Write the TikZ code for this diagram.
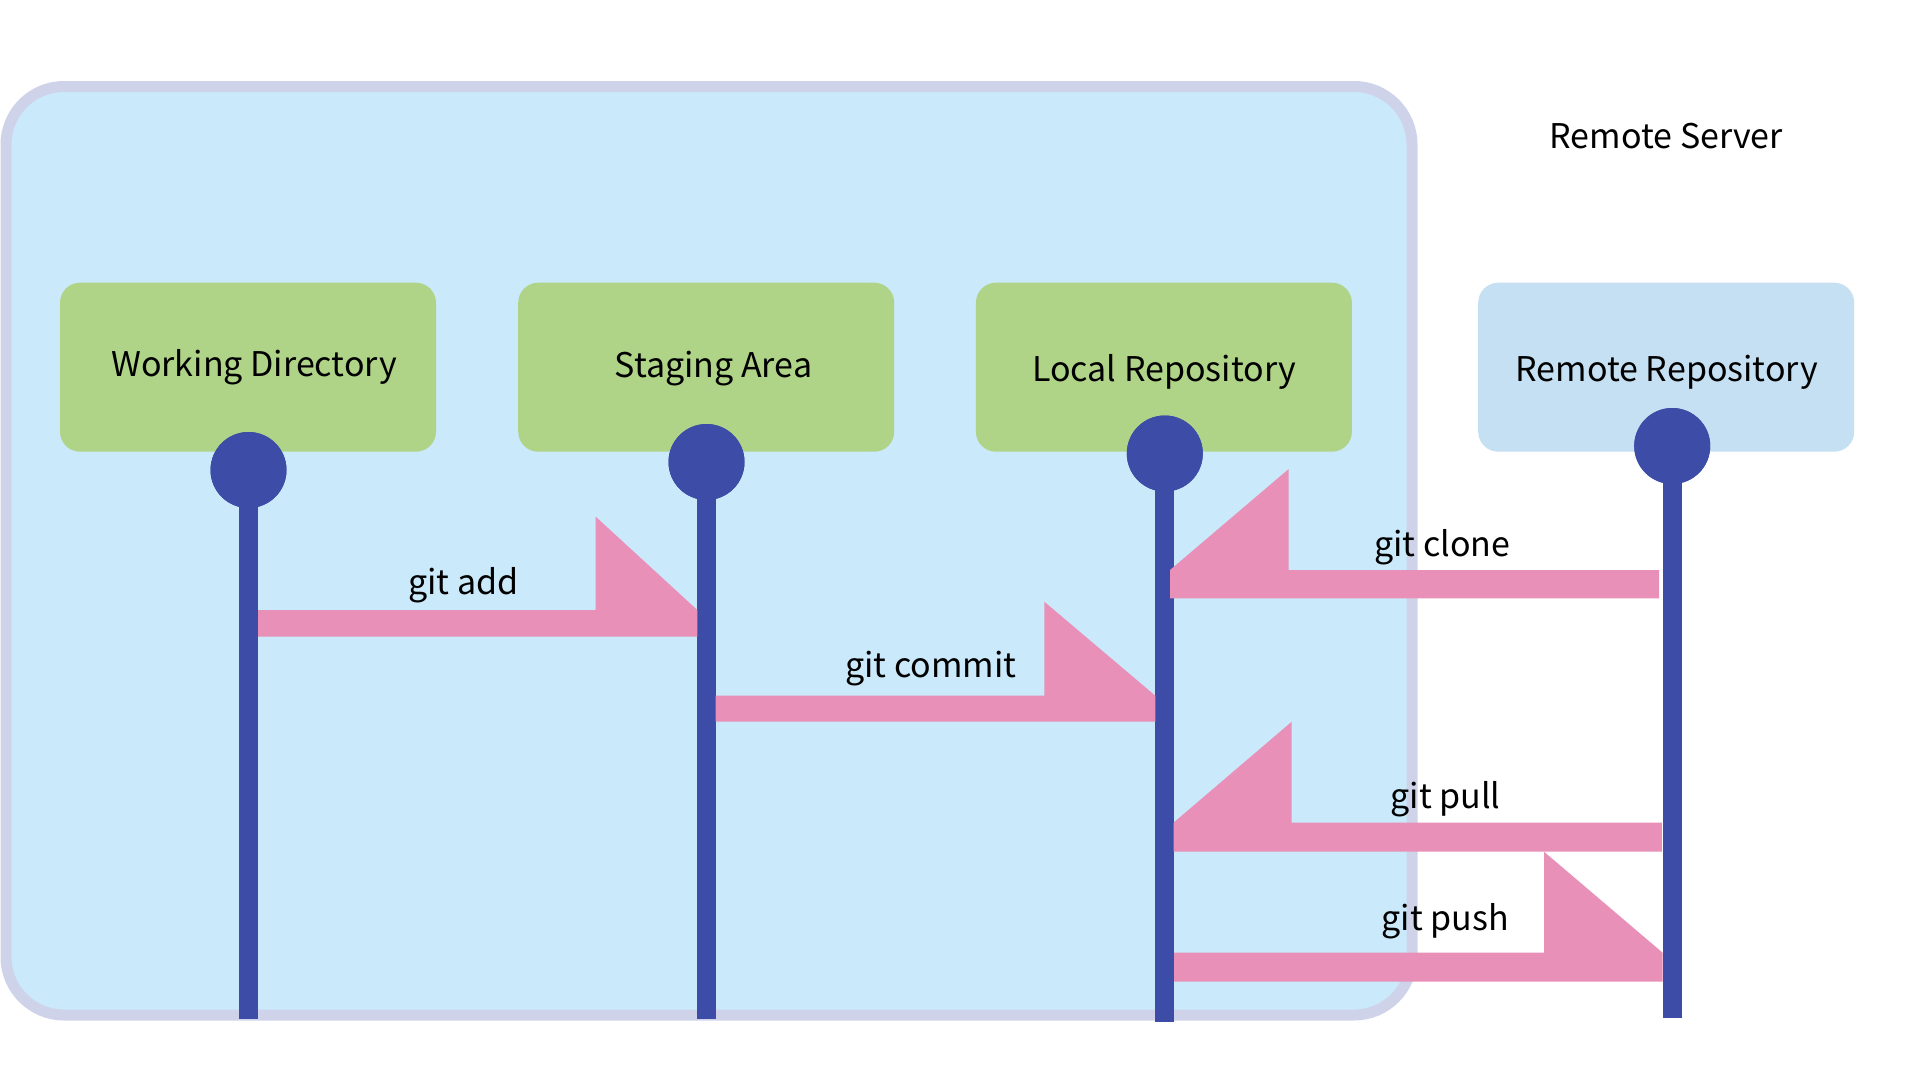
\documentclass[tikz,border=0pt]{standalone}
\usepackage{fontspec}
\setmainfont{Noto Sans CJK SC}
\usetikzlibrary{calc}
\definecolor{outerfill}{HTML}{CAE9FB}
\definecolor{outerdraw}{HTML}{CFD3EA}
\definecolor{greenbox}{HTML}{B0D487}
\definecolor{remotebox}{HTML}{C5E0F2}
\definecolor{lifeblue}{HTML}{3C4CA7}
\definecolor{arrowpink}{HTML}{E890B7}
% #1 tail, #2 tip (both on the upper edge of the shaft), #3 shaft thickness, #4 head length, #5 head height
\newcommand{\ArrowRight}[5]{\fill[gitarrow] (#1) -- ($(#2)+(-#4,0)$) -- ($(#2)+(-#4,-#5)$) -- (#2) -- ($(#2)+(0,#3)$) -- ($(#1)+(0,#3)$) -- cycle;}
\newcommand{\ArrowLeft}[5]{\fill[gitarrow] (#1) -- ($(#2)+(#4,0)$) -- ($(#2)+(#4,-#5)$) -- (#2) -- ($(#2)+(0,#3)$) -- ($(#1)+(0,#3)$) -- cycle;}
\begin{document}
\begin{tikzpicture}[x=1pt,y=-1pt,
  containerbox/.style={rectangle, rounded corners=58pt, fill=outerfill, draw=outerdraw, line width=11pt, minimum width=1406pt, minimum height=928.5pt, inner sep=0pt, outer sep=0pt},
  stagebox/.style={rectangle, rounded corners=20pt, fill=greenbox, minimum width=376pt, minimum height=169pt, inner sep=0pt, outer sep=0pt},
  remotestage/.style={stagebox, fill=remotebox},
  dot/.style={circle, fill=lifeblue, minimum size=76pt, inner sep=0pt, outer sep=0pt},
  lifeline/.style={draw=lifeblue, line width=19pt},
  gitarrow/.style={fill=arrowpink},
  txt/.style={anchor=base, inner sep=0pt, outer sep=0pt, font=\fontsize{34}{41}\selectfont, text=black}
]
\useasboundingbox (0,0) rectangle (1920,1080);
\fill[white] (0,0) rectangle (1920,1080);

% container of the local side
\node[containerbox] (local) at (709,550.75) {};

% stage boxes
\node[stagebox] (wd) at (248,367.2) {};
\node[stagebox] (sa) at (706.2,367.2) {};
\node[stagebox] (lr) at (1163.9,367.2) {};
\node[remotestage] (rr) at (1666.2,367.2) {};

% lifeline ends
\coordinate (wdb) at (248.5,1018.7);
\coordinate (sab) at (706.5,1018.7);
\coordinate (lrb) at (1164.8,1021.7);
\coordinate (rrb) at (1672.2,1018.3);

% lifeline heads
\node[dot] (wdc) at (248.5,470) {};
\node[dot] (sac) at (706.5,462) {};
\node[dot] (lrc) at (1164.8,453.5) {};
\node[dot] (rrc) at (1672.2,446) {};

\draw[lifeline] (wdc.center) -- (wdb);
\draw[lifeline] (sac.center) -- (sab);
\draw[lifeline] (lrc.center) -- (lrb);
\draw[lifeline] (rrc.center) -- (rrb);
\node[dot] at (wdc.center) {};
\node[dot] at (sac.center) {};
\node[dot] at (lrc.center) {};
\node[dot] at (rrc.center) {};

% arrow end points
\coordinate (addS) at (258.2,610);
\coordinate (addT) at (697.3,610);
\coordinate (comS) at (715.5,695.7);
\coordinate (comT) at (1155.3,695.7);
\coordinate (cloS) at (1659,570);
\coordinate (cloT) at (1170,570);
\coordinate (pulS) at (1661.8,822.7);
\coordinate (pulT) at (1173.5,822.7);
\coordinate (pusS) at (1174,952.7);
\coordinate (pusT) at (1662.6,952.7);

\ArrowRight{addS}{addT}{26.7}{101.6}{93.3}
\ArrowRight{comS}{comT}{26}{111}{94}
\ArrowLeft{cloS}{cloT}{28.3}{118.7}{101}
\ArrowLeft{pulS}{pulT}{29}{118.2}{101}
\ArrowRight{pusS}{pusT}{29}{118.6}{101}

% texts
\node[txt] (wdl) at (254,376.7) {Working Directory};
\node[txt] (sal) at (713.4,377.3) {Staging Area};
\node[txt] (lrl) at (1164,381) {Local Repository};
\node[txt] (rrl) at (1666.7,381.7) {Remote Repository};
\node[txt] (server) at (1666.3,148.3) {Remote Server};
\node[txt] (addl) at (463.3,594) {git add};
\node[txt] (coml) at (930.7,677.3) {git commit};
\node[txt] (clol) at (1442.4,556) {git clone};
\node[txt] (pull) at (1445.5,808) {git pull};
\node[txt] (pusl) at (1445.3,930) {git push};
\end{tikzpicture}
\end{document}
